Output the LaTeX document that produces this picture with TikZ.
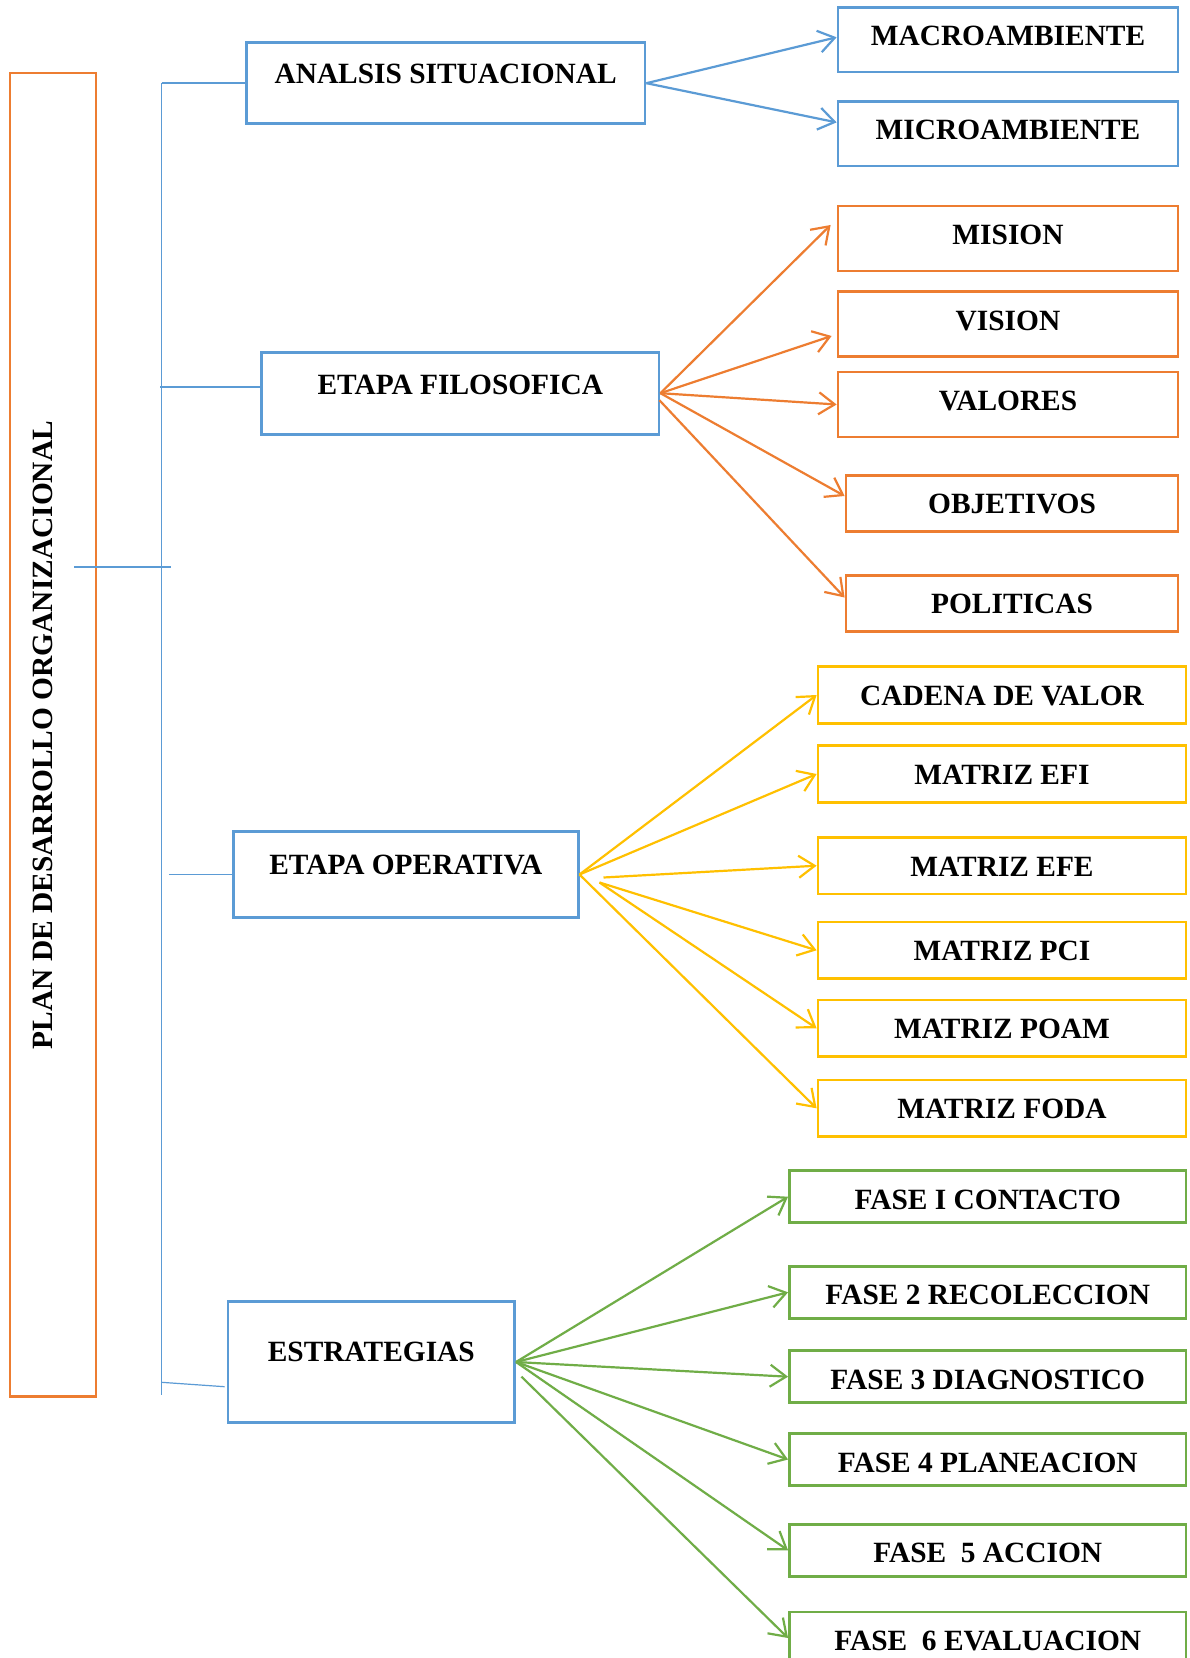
\documentclass[tikz,border=0pt]{standalone}
\usepackage{fontspec}
\setmainfont{Liberation Serif}
\usetikzlibrary{arrows.meta}
\definecolor{azul}{HTML}{5B9BD5}
\definecolor{naranja}{HTML}{ED7D31}
\definecolor{amarillo}{HTML}{FFC000}
\definecolor{verde}{HTML}{70AD47}
\tikzset{txt/.style={font=\fontsize{14.7pt}{17pt}\selectfont\bfseries,inner sep=0pt},
etapa/.style={txt,draw=azul,line width=1.4pt,text depth=10pt},
caja/.style={txt,draw=#1,line width=1.4pt},
flecha/.style={draw=#1,line width=1.1pt,-{Straight Barb[length=8pt,width=11pt]}}}
\begin{document}
\begin{tikzpicture}[x=.5pt,y=-.5pt]
\clip (0,0) rectangle (1189,1658);\fill[white] (0,0) rectangle (1189,1658);
\node[draw=naranja,line width=1.3pt,minimum width=43pt,minimum height=661.5pt] (plan) at (53,734.7){};
\node[txt,rotate=90] (plantxt) at (42.5,735){PLAN DE DESARROLLO ORGANIZACIONAL};
\node[etapa,minimum width=199.3pt,minimum height=40.5pt,text depth=9pt] (an) at (445.7,83.2){ANALSIS SITUACIONAL};
\node[etapa,minimum width=198.7pt,minimum height=40.9pt,text depth=8pt] (fi) at (460.3,393.2){ETAPA FILOSOFICA};
\node[etapa,minimum width=172.3pt,minimum height=42.8pt,text depth=9.5pt] (op) at (405.8,874.5){ETAPA OPERATIVA};
\node[etapa,minimum width=143.3pt,minimum height=60.3pt] (es) at (371.3,1362){ESTRATEGIAS};
\coordinate (lt) at (161.5,83.2);\coordinate (lb) at (161.5,1395);\coordinate (eslink) at (161.5,1382.3);
\coordinate (pa) at (74,567);\coordinate (pb) at (170.7,567);
\draw[azul,line width=.6pt] (lt)--(lb);\draw[azul,line width=.9pt] (pa)--(pb);
\draw[azul,line width=.9pt] (lt)--(an.west);\draw[azul,line width=.9pt] ([shift={(0,-6.5)}]fi.west)--++(-100,0);
\draw[azul,line width=.9pt] (op.west)--++(-63.5,0);\draw[azul,line width=.6pt] (eslink)--([shift={(-2,24.7)}]es.west);
\foreach \n/\y/\t in {macro/39.7/MACROAMBIENTE,micro/133.7/MICROAMBIENTE}
\node[caja=azul,minimum width=170pt,minimum height=32.3pt,text depth=4pt] (\n) at (1008,\y){\t};
\foreach \n/\y/\t in {mision/238.5/MISION,vision/324.3/VISION,valores/404.5/VALORES}
\node[caja=naranja,minimum width=170pt,minimum height=32.5pt,text depth=4pt] (\n) at (1008,\y){\t};
\foreach \n/\y/\t in {objetivos/503.5/OBJETIVOS,politicas/603.5/POLITICAS}
\node[caja=naranja,minimum width=166pt,minimum height=27.7pt,text height=10.5pt] (\n) at (1012,\y){\t};
\foreach \n/\y/\t in {cadena/695/CADENA DE VALOR,efi/774/MATRIZ EFI,efe/865.7/MATRIZ EFE,pci/950.3/MATRIZ PCI,poam/1028.3/MATRIZ POAM,foda/1108.3/MATRIZ FODA}
\node[caja=amarillo,minimum width=184pt,minimum height=28.3pt,text height=10.7pt] (\n) at (1002,\y){\t};
\foreach \n/\y/\t in {f1/1196.7/FASE I CONTACTO,f2/1292.3/FASE 2 RECOLECCION,f3/1376.7/FASE 3 DIAGNOSTICO,f4/1459.5/FASE 4 PLANEACION,f5/1550.3/FASE\ \ 5 ACCION,f6/1638/FASE\ \ 6 EVALUACION}
\node[caja=verde,minimum width=198.3pt,minimum height=26pt,text height=12.7pt] (\n) at (987.75,\y){\t};
\draw[flecha=azul] (an.east)--([shift={(0,-2.4)}]macro.west);\draw[flecha=azul] (an.east)--([shift={(0,-11.3)}]micro.west);
\draw[flecha=naranja] (fi.east)--([shift={(-6,-13.5)}]mision.west);\draw[flecha=naranja] (fi.east)--([shift={(-5,11.7)}]vision.west);
\draw[flecha=naranja] (fi.east)--(valores.west);\draw[flecha=naranja] (fi.east)--([shift={(0,-7.5)}]objetivos.west);
\draw[flecha=naranja] ([shift={(-1,7)}]fi.east)--([shift={(0,-6)}]politicas.west);
\foreach \n in {cadena,efi,foda}\draw[flecha=amarillo] (op.east)--(\n.west);
\draw[flecha=amarillo] ([shift={(24,3)}]op.east)--(efe.west);
\foreach \n in {pci,poam}\draw[flecha=amarillo] ([shift={(20,8)}]op.east)--(\n.west);
\foreach \n in {f1,f2,f3,f4,f5}\draw[flecha=verde] (es.east)--(\n.west);
\draw[flecha=verde] ([shift={(5.5,14.7)}]es.east)--(f6.west);
\end{tikzpicture}
\end{document}
